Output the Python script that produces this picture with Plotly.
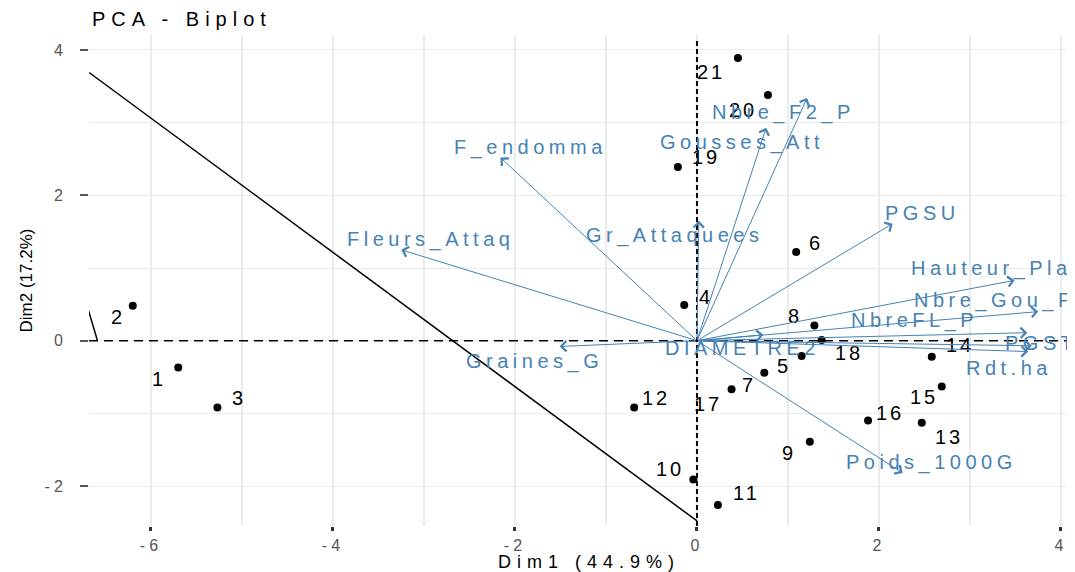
import plotly.graph_objects as go

# ---------------- data ----------------
ind_labels = [str(i) for i in range(1, 22)]
ind_x = [-5.70, -6.20, -5.27, -0.14, 1.15, 1.09, 0.74, 1.29, 1.24, -0.04, 0.23,
         -0.69, 2.47, 2.58, 2.69, 1.88, 0.38, 1.37, -0.21, 0.78, 0.45]
ind_y = [-0.37, 0.48, -0.92, 0.49, -0.21, 1.22, -0.44, 0.21, -1.39, -1.91, -2.26,
         -0.92, -1.13, -0.22, -0.63, -1.10, -0.67, 0.01, 2.39, 3.38, 3.89]
# label offsets (pixels, dx right, dy down) as placed by repel in the original
ind_dx = [-21, -16, 20, 20, -19, 18, -17, -21, -22, -25, 27, 20, 26, 27, -19, 20, -25, 26, 27, -26, -28]
ind_dy = [11, 11, -10, -8, 10, -9, 12, -9, 11, -10, -12, -10, 14, -12, 11, -8, 15, 13, -10, 15, 14]

var_names = ["Nbre_F2_P", "Gousses_Att", "F_endomma", "Fleurs_Attaq", "Gr_Attaquees", "PGSU",
             "Hauteur_Pla", "Nbre_Gou_P", "NbreFL_P", "PGST", "Rdt.ha", "DIAMETRE2",
             "Graines_G", "Poids_1000G"]
var_x = [1.21, 0.76, -2.16, -3.25, 0.02, 2.15, 3.49, 3.75, 3.63, 3.68, 3.64, 0.73, -1.51, 2.26]
var_y = [3.34, 2.93, 2.52, 1.25, 1.65, 1.61, 0.83, 0.40, 0.11, -0.07, -0.15, 0.08, -0.08, -1.82]
var_dx = [-26, -26, 28, 27, -26, 28, -25, -45, -115, 7, -21, -23, -27, 27]
var_dy = [15, 15, -10, -10, 15, -11, -12, -11, -12, -3, 16, 13, 15, -10]

# black reference lines (endpoints in data units)
line1_x = [-6.68, 0.0]
line1_y = [3.69, -2.48]
line2_x = [-6.69, -6.59]
line2_y = [0.43, 0.01]

x_ticks = [-6, -4, -2, 0, 2, 4]
y_ticks = [-2, 0, 2, 4]
x_minor = [-5, -3, -1, 1, 3]
y_minor = [-1, 1, 3]

title_text = "PCA - Biplot"
xlab = "Dim1 (44.9%)"
ylab = "Dim2 (17.2%)"

FONT = "Liberation Sans, Arial, sans-serif"
BLUE = "#4682B4"
GRID = "#EBEBEB"


def sp(t, ls):
    return f'<span style="letter-spacing:{ls}px">{t}</span>'


fig = go.Figure()

fig.add_trace(go.Scatter(x=ind_x, y=ind_y, mode="markers",
                         marker=dict(color="black", size=8),
                         hoverinfo="skip", showlegend=False))

annotations = []
for lab, x, y, dx, dy in zip(ind_labels, ind_x, ind_y, ind_dx, ind_dy):
    annotations.append(dict(x=x, y=y, xref="x", yref="y", text=sp(lab, 3),
                            showarrow=False, xshift=dx + 1.5, yshift=-dy,
                            font=dict(family=FONT, size=20, color="black")))

for name, x, y, dx, dy in zip(var_names, var_x, var_y, var_dx, var_dy):
    annotations.append(dict(x=x, y=y, xref="x", yref="y", ax=0, ay=0,
                            axref="x", ayref="y", text="", showarrow=True,
                            arrowhead=4, arrowsize=2, arrowwidth=1,
                            arrowcolor=BLUE, standoff=0, startstandoff=0))
    annotations.append(dict(x=x, y=y, xref="x", yref="y", text=sp(name, 4.5),
                            showarrow=False, xshift=dx + 2, yshift=-dy,
                            font=dict(family=FONT, size=20, color=BLUE)))

# title and axis titles
annotations.append(dict(x=0.001, y=1.0326, xref="paper", yref="paper",
                        xanchor="left", yanchor="middle", showarrow=False,
                        text=sp(title_text, 6),
                        font=dict(family=FONT, size=20, color="black")))
annotations.append(dict(x=0.507, y=-0.0733, xref="paper", yref="paper",
                        xanchor="center", yanchor="middle", showarrow=False,
                        text=sp(xlab, 6),
                        font=dict(family=FONT, size=18, color="black")))
annotations.append(dict(x=-0.0629, y=0.5, xref="paper", yref="paper",
                        xanchor="center", yanchor="middle", showarrow=False,
                        text=ylab, textangle=-90,
                        font=dict(family=FONT, size=17, color="black")))

shapes = [
    dict(type="line", xref="paper", yref="y", x0=0, x1=1, y0=0, y1=0,
         line=dict(color="black", width=1.5, dash="9px,6px"), layer="above"),
    dict(type="line", xref="x", yref="paper", x0=0, x1=0, y0=0, y1=0.99,
         line=dict(color="black", width=2, dash="5px,3px"), layer="above"),
    dict(type="line", xref="x", yref="y", x0=line1_x[0], x1=line1_x[1],
         y0=line1_y[0], y1=line1_y[1], line=dict(color="black", width=1.5),
         layer="above"),
    dict(type="line", xref="x", yref="y", x0=line2_x[0], x1=line2_x[1],
         y0=line2_y[0], y1=line2_y[1], line=dict(color="black", width=1.5),
         layer="above"),
]

# the page body has an 8px margin, so the figure is shifted by 8px; compensate
fig.update_layout(
    width=1067, height=564,
    margin=dict(l=81, r=0, t=27, b=46),
    paper_bgcolor="white", plot_bgcolor="white",
    showlegend=False,
    annotations=annotations,
    shapes=shapes,
    xaxis=dict(range=[-6.681, 4.154], tickvals=x_ticks,
               ticktext=[sp(str(v), 4) for v in x_ticks],
               tickfont=dict(family=FONT, size=16, color="#555555"),
               ticks="outside", ticklen=4, tickwidth=2.5, tickcolor="#333333",
               ticklabelstandoff=1,
               showgrid=True, gridcolor=GRID, gridwidth=2,
               minor=dict(tickvals=x_minor, showgrid=True, gridcolor=GRID,
                          gridwidth=2, ticks=""),
               zeroline=False, showline=False, fixedrange=True),
    yaxis=dict(range=[-2.55, 4.206], tickvals=y_ticks,
               ticktext=[sp(str(v), 4) for v in y_ticks],
               tickfont=dict(family=FONT, size=16, color="#555555"),
               ticks="outside", ticklen=8, tickwidth=1.5, tickcolor="#555555",
               ticklabelstandoff=10,
               showgrid=True, gridcolor=GRID, gridwidth=1.3,
               minor=dict(tickvals=y_minor, showgrid=True, gridcolor=GRID,
                          gridwidth=1.3, ticks=""),
               zeroline=False, showline=False, fixedrange=True),
)

fig.write_html("out.html")
